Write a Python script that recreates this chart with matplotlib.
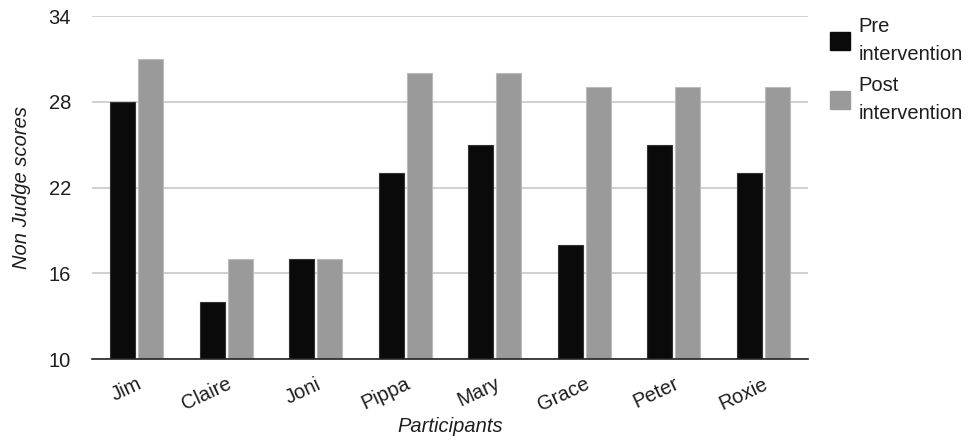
import numpy as np
import matplotlib.pyplot as plt
from matplotlib.patches import Patch

plt.rcParams['font.family'] = ['Liberation Sans', 'DejaVu Sans']

participants = ['Jim', 'Claire', 'Joni', 'Pippa', 'Mary', 'Grace', 'Peter', 'Roxie']
pre_scores = [28, 14, 17, 23, 25, 18, 25, 23]
post_scores = [31, 17, 17, 30, 30, 29, 29, 29]
y_ticks = [10, 16, 22, 28, 34]

pre_color = '#0a0a0a'
post_color = '#9a9a9a'
txt_color = '#1e1e1e'
fs = 14.5

fig = plt.figure(figsize=(9.69, 4.4), dpi=100)
ax = fig.add_axes([92 / 969, 1 - 359 / 440, 716 / 969, 343 / 440])

x = np.arange(len(participants))
w = 0.28
ax.bar(x - 0.155, pre_scores, w, color=pre_color, edgecolor='#333333', linewidth=0.8, zorder=3)
ax.bar(x + 0.155, post_scores, w, color=post_color, edgecolor='#bbbbbb', linewidth=0.8, zorder=3)

ax.set_xlim(-0.5, len(participants) - 0.5)
ax.set_ylim(10, 34)
ax.set_yticks(y_ticks)
ax.yaxis.grid(True, color='#c8c8c8', linewidth=1.2, zorder=0)
ax.set_axisbelow(True)

for s in ['top', 'right', 'left']:
    ax.spines[s].set_visible(False)
ax.spines['bottom'].set_color('#222222')
ax.spines['bottom'].set_linewidth(1.2)
ax.spines['bottom'].set_zorder(4)

ax.tick_params(axis='both', length=0, labelsize=fs, colors=txt_color)
ax.tick_params(axis='y', pad=15)
ax.set_xticks(x)
ax.set_xticklabels(participants, rotation=25, ha='right', rotation_mode='anchor')
ax.tick_params(axis='x', pad=11)

ax.set_xlabel('Participants', fontsize=fs, style='italic', color=txt_color)
ax.xaxis.set_label_coords(0.5, -58 / 343, transform=ax.transAxes)
ax.set_ylabel('Non Judge scores', fontsize=fs, style='italic', color=txt_color, labelpad=13)

handles = [Patch(facecolor=pre_color, edgecolor=pre_color), Patch(facecolor=post_color, edgecolor=post_color)]
leg = fig.legend(handles, ['Pre\nintervention', 'Post\nintervention'], loc='upper left',
                 bbox_to_anchor=(822 / 969, 1 - 9 / 440), frameon=False, fontsize=fs,
                 handlelength=1.0, handleheight=1.0, handletextpad=0.4, labelspacing=0.6,
                 borderaxespad=0, labelcolor=txt_color)
for t in leg.get_texts():
    t.set_linespacing(1.6)

fig.savefig('out.png', dpi=100)
